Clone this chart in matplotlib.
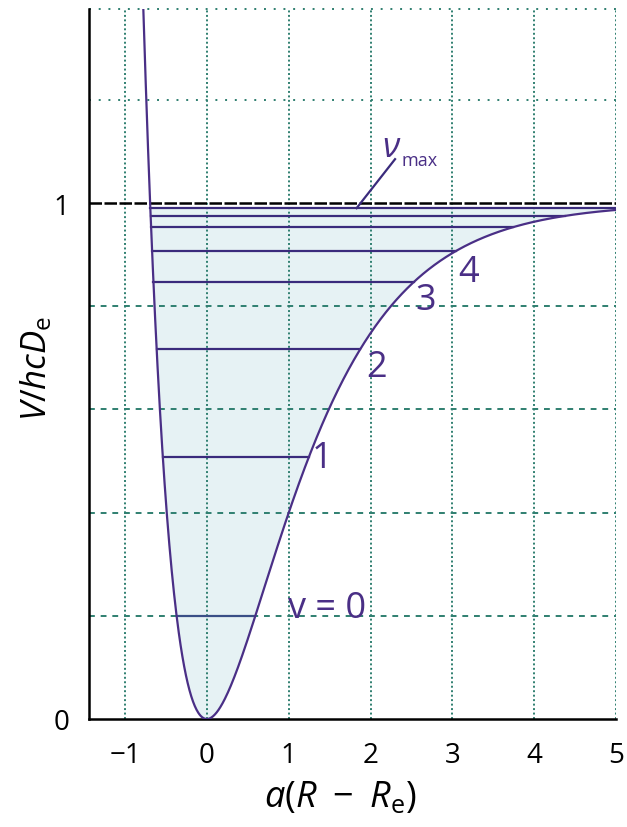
import numpy as np
import matplotlib.pyplot as plt

plt.rcParams['font.family'] = ['Open Sans', 'DejaVu Sans']
plt.rcParams['mathtext.fontset'] = 'custom'
plt.rcParams['mathtext.rm'] = 'Open Sans'
plt.rcParams['mathtext.it'] = 'Open Sans:italic'
plt.rcParams['mathtext.bf'] = 'Open Sans:bold'

# vibrational term values, in units of hcDe
levels = [0.200, 0.508, 0.717, 0.847, 0.907, 0.953, 0.975, 0.990]
level_names = ['v = 0', '1', '2', '3', '4']
x_ticks = [-1, 0, 1, 2, 3, 4, 5]
x_tick_labels = ['\u22121', '0', '1', '2', '3', '4', '5']
y_ticks = [0, 1]
y_tick_labels = ['0', '1']

XMIN, XMAX = -1.44, 5.0
YMIN, YMAX = 0.0, 1.376

purple = '#4a2f86'
line_col = '#3a2b7c'
grid_col = '#2f7f70'
fill_col = '#e6f2f4'


def morse(x):
    return (1 - np.exp(-x)) ** 2


def turning_points(e):
    r = np.sqrt(e)
    return -np.log(1 + r), -np.log(1 - r)


fig = plt.figure(figsize=(6.27, 8.28), dpi=100)
ax = fig.add_axes([89 / 627, 1 - 720 / 828, (616 - 89) / 627, (720 - 10) / 828])

# grid
for xv in x_ticks:
    ax.axvline(xv, color=grid_col, lw=1.4, ls=(0, (1, 1.3)), zorder=1)
for yv in [0.2, 0.4, 0.6, 0.8]:
    ax.axhline(yv, color=grid_col, lw=1.4, ls=(0, (3, 3)), zorder=1)
for yv in [1.2, YMAX]:
    ax.axhline(yv, color=grid_col, lw=1.4, ls=(0, (1, 4)), zorder=1, clip_on=False)

# potential well
x_left = -np.log(1 + np.sqrt(YMAX))
x = np.linspace(x_left, XMAX, 800)
v = morse(x)
top = levels[-1]
ax.fill_between(x, v, top, where=v <= top, color=fill_col, lw=0, zorder=0)
ax.plot(x, v, color=purple, lw=1.6, zorder=4)

# dissociation limit
ax.axhline(1.0, color='black', lw=1.8, ls=(0, (5, 1)), zorder=3)

# vibrational levels
for i, e in enumerate(levels):
    xl, xr = turning_points(e)
    xr = min(xr, XMAX)
    col = '#3a4f86' if i == 0 else line_col
    ax.plot([xl, xr], [e, e], color=col, lw=1.6, zorder=3)

# level labels, offset from the outer turning point
offsets = [(0.40, 0.015), (0.16, -0.002), (0.2, -0.035), (0.14, -0.035), (0.15, -0.04)]
for i, name in enumerate(level_names):
    xr = turning_points(levels[i])[1]
    dx, dy = offsets[i]
    ax.text(xr + dx, levels[i] + dy, name, color=purple, fontsize=26,
            ha='left' if i == 0 else 'center', va='center', zorder=5)

# v_max marker
ax.plot([1.83, 2.3], [levels[-1], 1.085], color=line_col, lw=1.6, zorder=5)
ax.text(2.26, 1.108, r'$\nu$', color=purple, fontsize=25, ha='center', va='center')
ax.text(2.38, 1.083, 'max', color=purple, fontsize=13, ha='left', va='center')

ax.set_xlim(XMIN, XMAX)
ax.set_ylim(YMIN, YMAX)
ax.set_xticks(x_ticks)
ax.set_xticklabels(x_tick_labels, fontsize=20)
ax.set_yticks(y_ticks)
ax.set_yticklabels(y_tick_labels, fontsize=20)
ax.tick_params(length=0)
ax.tick_params(axis='x', pad=16)
ax.tick_params(axis='y', pad=14)

for side in ['top', 'right']:
    ax.spines[side].set_visible(False)
ax.spines['left'].set_color('black')
ax.spines['left'].set_linewidth(1.8)
ax.spines['bottom'].set_color('black')
ax.spines['bottom'].set_linewidth(1.8)
ax.spines['bottom'].set_linestyle((0, (5, 1)))

fig.text(36 / 627, 1 - 368 / 828, r'$V/hcD_{\mathrm{e}}$', rotation=90,
         fontsize=25, ha='center', va='center')
fig.text(341 / 627, 1 - 780 / 828, r'$a(R\ -\ R_{\mathrm{e}})$',
         fontsize=26, ha='center', va='top')

fig.savefig('out.png', dpi=100)
